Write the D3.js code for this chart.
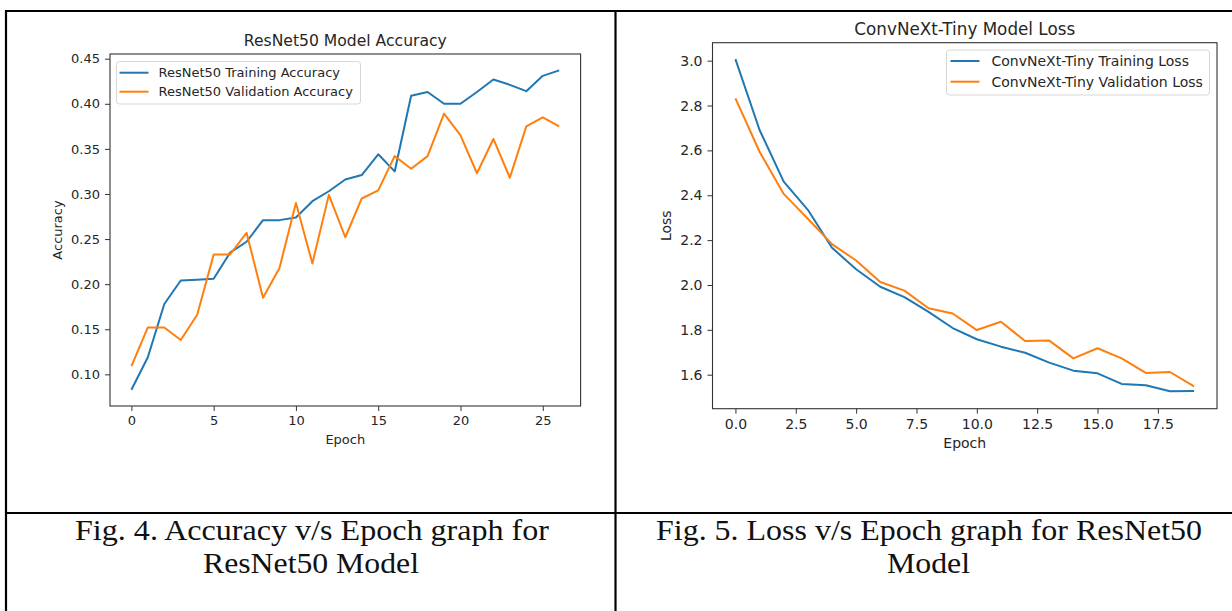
<!DOCTYPE html>
<html>
<head>
<meta charset="utf-8">
<script src="https://cdn.jsdelivr.net/npm/d3@7"></script>
<style>
	body { margin: 0; background: #fff; }
	svg { display: block; }
	.tick text { font-family: "DejaVu Sans", sans-serif; fill: #262626; }
	.tick line { stroke: #333; }
	.lbl { font-family: "DejaVu Sans", sans-serif; fill: #262626; }
	.cap { font-family: "Liberation Serif", "Times New Roman", serif; font-size: 30px; fill: #111; }
</style>
</head>
<body>
<div id="page"></div>
<script>
// ---- data ----
var accEpochs = d3.range(0, 27);
var accTrain = [0.083, 0.119, 0.178, 0.204, 0.205, 0.206, 0.235, 0.247, 0.271, 0.271,
	0.274, 0.292, 0.303, 0.316, 0.321, 0.344, 0.325, 0.409, 0.413, 0.400,
	0.400, 0.413, 0.427, 0.421, 0.414, 0.431, 0.437];
var accVal = [0.109, 0.152, 0.152, 0.138, 0.166, 0.233, 0.233, 0.257, 0.185, 0.218,
	0.290, 0.223, 0.299, 0.252, 0.295, 0.304, 0.342, 0.328, 0.342, 0.389,
	0.365, 0.323, 0.361, 0.318, 0.375, 0.385, 0.375];
var accYTicks = [0.10, 0.15, 0.20, 0.25, 0.30, 0.35, 0.40, 0.45];
var accXTicks = [0, 5, 10, 15, 20, 25];

var lossEpochs = d3.range(0, 20);
var lossTrain = [3.007, 2.691, 2.461, 2.335, 2.166, 2.070, 1.992, 1.946, 1.880, 1.808,
	1.758, 1.725, 1.698, 1.654, 1.618, 1.606, 1.559, 1.553, 1.526, 1.527];
var lossVal = [2.832, 2.594, 2.406, 2.295, 2.182, 2.109, 2.013, 1.975, 1.896, 1.873,
	1.799, 1.836, 1.750, 1.752, 1.673, 1.718, 1.673, 1.608, 1.612, 1.548];
var lossYTicks = [1.6, 1.8, 2.0, 2.2, 2.4, 2.6, 2.8, 3.0];
var lossXTicks = [0, 2.5, 5, 7.5, 10, 12.5, 15, 17.5];

var W = 1232, H = 611;
var svg = d3.select("#page").append("svg").attr("width", W).attr("height", H);

// ---- table frame ----
var frame = svg.append("g").attr("stroke", "#000").attr("stroke-width", 2.2);
frame.append("line").attr("x1", 6).attr("x2", W).attr("y1", 11).attr("y2", 11);
frame.append("line").attr("x1", 6).attr("x2", 6).attr("y1", 10).attr("y2", H);
frame.append("line").attr("x1", 615.5).attr("x2", 615.5).attr("y1", 10).attr("y2", H);
frame.append("line").attr("x1", 6).attr("x2", W).attr("y1", 513).attr("y2", 513);

var LineChart = function(config){
	Object.keys(config).forEach(key => this[key] = config[key]);
	this.g = svg.append("g");
	this.setupScales();
	this.drawAxes();
	this.drawLines();
	this.drawLegend();
}

LineChart.prototype.setupScales = function(){
	this.x = d3.scaleLinear().domain(this.xDomain).range([this.box.left, this.box.right]);
	this.y = d3.scaleLinear().domain(this.yDomain).range([this.box.bottom, this.box.top]);
}

LineChart.prototype.drawAxes = function(){
	let b = this.box;
	let fs = this.fontSize;
	let xg = this.g.append("g")
		.attr("transform", `translate(0, ${b.bottom})`)
		.call(d3.axisBottom(this.x).tickValues(this.xTicks).tickFormat(this.xFmt).tickSize(5).tickSizeOuter(0).tickPadding(5));
	let yg = this.g.append("g")
		.attr("transform", `translate(${b.left}, 0)`)
		.call(d3.axisLeft(this.y).tickValues(this.yTicks).tickFormat(d3.format(this.yFmt)).tickSize(5).tickSizeOuter(0).tickPadding(5));
	this.g.selectAll(".domain").remove();
	this.g.selectAll(".tick text").style("font-size", fs + "px");

	// full frame around the plot
	this.g.append("rect")
		.attr("x", b.left).attr("y", b.top)
		.attr("width", b.right - b.left).attr("height", b.bottom - b.top)
		.attr("fill", "none").attr("stroke", "#333").attr("stroke-width", 1.1);

	let cx = (b.left + b.right) / 2;
	this.g.append("text").attr("class", "lbl")
		.attr("x", cx).attr("y", b.top - 8)
		.attr("text-anchor", "middle").style("font-size", (fs * 1.2) + "px")
		.text(this.title);
	this.g.append("text").attr("class", "lbl")
		.attr("x", cx).attr("y", this.xLabelY)
		.attr("text-anchor", "middle").style("font-size", fs + "px")
		.text("Epoch");
	this.g.append("text").attr("class", "lbl")
		.attr("transform", `translate(${this.yLabelX}, ${(b.top + b.bottom) / 2}) rotate(-90)`)
		.attr("text-anchor", "middle").style("font-size", fs + "px")
		.text(this.yLabel);
}

LineChart.prototype.drawLines = function(){
	let line = d3.line().x((d, i) => this.x(this.epochs[i])).y(d => this.y(d));
	this.series.forEach(s => {
		this.g.append("path")
			.datum(s.values)
			.attr("fill", "none")
			.attr("stroke", s.color)
			.attr("stroke-width", 2)
			.attr("stroke-linejoin", "round")
			.attr("d", line);
	});
}

LineChart.prototype.drawLegend = function(){
	let L = this.legend;
	this.g.append("rect")
		.attr("x", L.x).attr("y", L.y).attr("width", L.w).attr("height", L.h)
		.attr("rx", 3).attr("fill", "#fff").attr("fill-opacity", 0.8)
		.attr("stroke", "#d6d6d6");
	this.series.forEach((s, i) => {
		let yy = L.y + L.first + i * L.gap;
		this.g.append("line")
			.attr("x1", L.x + L.lx).attr("x2", L.x + L.lx + 29)
			.attr("y1", yy).attr("y2", yy)
			.attr("stroke", s.color).attr("stroke-width", 2);
		this.g.append("text").attr("class", "lbl")
			.attr("x", L.x + L.tx).attr("y", yy).attr("dy", "0.35em")
			.style("font-size", this.fontSize + "px")
			.text(s.name);
	});
}

new LineChart({
	title: "ResNet50 Model Accuracy",
	yLabel: "Accuracy",
	yLabelX: 62,
	xLabelY: 444,
	fontSize: 13,
	box: {left: 110, right: 580.6, top: 54, bottom: 406},
	xDomain: [-1.3, 27.3],
	yDomain: [0.0649, 0.4552],
	xTicks: accXTicks,
	yTicks: accYTicks,
	xFmt: d3.format("d"),
	yFmt: ".2f",
	epochs: accEpochs,
	series: [
		{name: "ResNet50 Training Accuracy", values: accTrain, color: "#1f77b4"},
		{name: "ResNet50 Validation Accuracy", values: accVal, color: "#ff7f0e"}
	],
	legend: {x: 116.5, y: 61.5, w: 244, h: 42.5, first: 11.2, gap: 19, lx: 3, tx: 42}
});

new LineChart({
	title: "ConvNeXt-Tiny Model Loss",
	yLabel: "Loss",
	yLabelX: 671,
	xLabelY: 448,
	fontSize: 14,
	box: {left: 712.5, right: 1217, top: 42.7, bottom: 408.7},
	xDomain: [-0.95, 19.95],
	yDomain: [1.4484, 3.0801],
	xTicks: lossXTicks,
	yTicks: lossYTicks,
	xFmt: d3.format(".1f"),
	yFmt: ".1f",
	epochs: lossEpochs,
	series: [
		{name: "ConvNeXt-Tiny Training Loss", values: lossTrain, color: "#1f77b4"},
		{name: "ConvNeXt-Tiny Validation Loss", values: lossVal, color: "#ff7f0e"}
	],
	legend: {x: 946.5, y: 50, w: 263, h: 45, first: 11, gap: 20.7, lx: 4, tx: 45}
});

// ---- captions ----
var captions = [
	{text: "Fig. 4. Accuracy v/s Epoch graph for", x: 312, y: 540, w: 474},
	{text: "ResNet50 Model", x: 311, y: 573, w: 216},
	{text: "Fig. 5. Loss v/s Epoch graph for ResNet50", x: 929, y: 540, w: 546},
	{text: "Model", x: 928.5, y: 573, w: 83}
];
svg.selectAll(".cap").data(captions).enter()
	.append("text").attr("class", "cap")
	.attr("x", d => d.x).attr("y", d => d.y)
	.attr("text-anchor", "middle")
	.attr("textLength", d => d.w)
	.attr("lengthAdjust", "spacingAndGlyphs")
	.text(d => d.text);
</script>
</body>
</html>
